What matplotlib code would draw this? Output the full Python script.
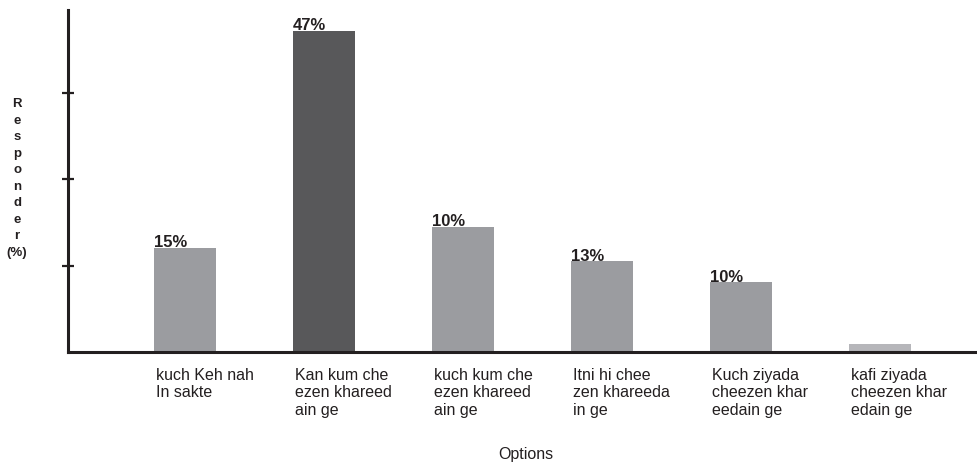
import matplotlib
matplotlib.use("Agg")
import matplotlib.pyplot as plt
import matplotlib.transforms as mtransforms

plt.rcParams['font.family'] = ['Liberation Sans', 'DejaVu Sans']

# ____________________________ data ____________________________
options = ["kuch Keh nah\nIn sakte",
           "Kan kum che\nezen khareed\nain ge",
           "kuch kum che\nezen khareed\nain ge",
           "Itni hi chee\nzen khareeda\nin ge",
           "Kuch ziyada\ncheezen khar\needain ge",
           "kafi ziyada\ncheezen khar\nedain ge"]
heights = [12.1, 37.2, 14.5, 10.5, 8.1, 0.9]
pct_labels = ["15%", "47%", "10%", "13%", "10%", ""]
bar_colors = ["#9b9ca0", "#58585a", "#9b9ca0", "#9b9ca0", "#9b9ca0", "#b6b6ba"]
ylabel_text = "Responder"

# ____________________________ plot ____________________________
fig = plt.figure(figsize=(9.77, 4.66), dpi=100)
ax = fig.add_axes([68 / 977, 1 - 352 / 466, 1 - 68 / 977, 342 / 466])

width = 0.446
xs = list(range(len(options)))
ax.bar(xs, heights, width=width, color=bar_colors, zorder=1)

ax.set_xlim(-0.842, 5.698)
ax.set_ylim(0, 39.6)

for s in ['top', 'right']:
    ax.spines[s].set_visible(False)
for s in ['left', 'bottom']:
    ax.spines[s].set_linewidth(2.2)
    ax.spines[s].set_color('#231f20')
    ax.spines[s].set_zorder(3)

ax.set_xticks([])
ax.set_yticks([10, 20, 30])
ax.set_yticklabels([])
ax.tick_params(axis='y', direction='inout', length=8.5, width=1.6, color='#231f20')

# value labels, left aligned on the bar edge
for x, h, lab in zip(xs, heights, pct_labels):
    if lab:
        ax.annotate(lab, (x - width / 2, h), xytext=(0, 0.3), textcoords='offset points',
                    ha='left', va='baseline', fontsize=12, fontweight='bold', color='#231f20')

# category labels under the axis
trans = mtransforms.blended_transform_factory(ax.transData, ax.transAxes)
for x, lab in zip(xs, options):
    ax.annotate(lab, (x - width / 2, 0), xycoords=trans, xytext=(1.2, -11.5),
                textcoords='offset points', ha='left', va='top', fontsize=11.5,
                color='#231f20', linespacing=1.2)

fig.text(526 / 977, 1 - 454 / 466, "Options", ha='center', va='center', fontsize=11.5, color='#231f20')

fig.text(17 / 977, 1 - 178.5 / 466, "\n".join(list(ylabel_text)) + "\n(%)", ha='center', va='center',
         fontsize=9.5, fontweight='bold', linespacing=1.5, color='#231f20')

fig.savefig("out.png", dpi=100)
